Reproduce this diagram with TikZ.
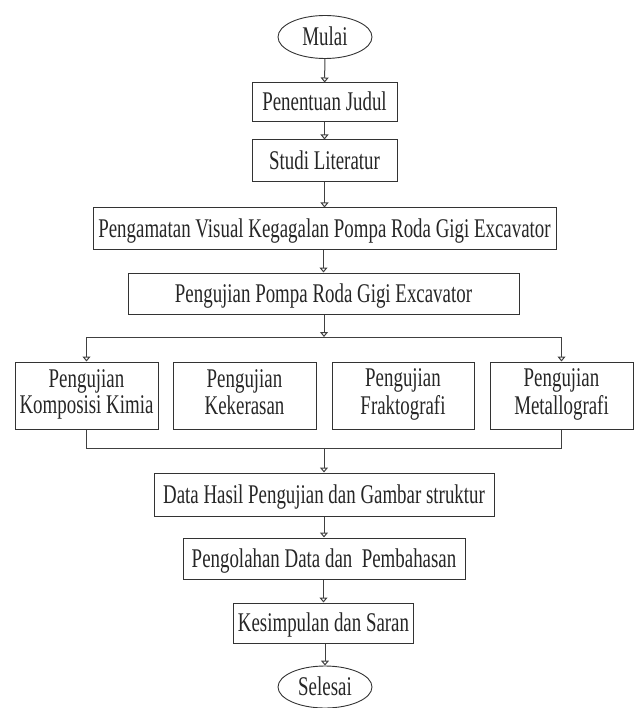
\documentclass[tikz,border=0pt]{standalone}
\usepackage{fontspec}
\setmainfont{Liberation Serif}[FakeStretch=0.70]
\usetikzlibrary{shapes.geometric,arrows.meta}
\newcommand\linestrut{\rule[-7.5pt]{0pt}{25pt}}
\begin{document}
\begin{tikzpicture}[x=1pt,y=-1pt,
  every node/.style={font=\fontsize{27}{25}\selectfont, text=black!85, inner sep=0pt},
  onel/.style={text height=17pt, text depth=0pt},
  stepbox/.style={draw=black!80, line width=1pt, rectangle, align=center},
  termbox/.style={draw=black!80, line width=0.9pt, ellipse, minimum width=94pt, minimum height=43pt, onel},
  conn/.style={draw=black!75, line width=1pt},
  arr/.style={conn, -{Triangle[open, length=5pt, width=8pt]}}]
\useasboundingbox (0,0) rectangle (637,708);
\node[termbox] (mulai) at (325,37) {Mulai};
\node[stepbox, onel, minimum width=145pt, minimum height=39pt] (judul) at (324.5,102.5) {Penentuan Judul};
\node[stepbox, onel, minimum width=145pt, minimum height=42pt] (studi) at (324.5,161) {Studi Literatur};
\node[stepbox, onel, minimum width=463pt, minimum height=42pt] (visual) at (324.5,229) {Pengamatan Visual Kegagalan Pompa Roda Gigi Excavator};
\node[stepbox, onel, minimum width=391pt, minimum height=41pt] (pompa) at (323.5,293.5) {Pengujian Pompa Roda Gigi Excavator};
\node[stepbox, minimum width=143pt, minimum height=67pt] (b1) at (86.5,395.5) {\linestrut Pengujian\\\linestrut Komposisi Kimia};
\node[stepbox, minimum width=143pt, minimum height=67pt] (b2) at (244.5,395.5) {\linestrut Pengujian\\\linestrut Kekerasan};
\node[stepbox, minimum width=142pt, minimum height=67pt] (b3) at (403,395.5) {\linestrut Pengujian\\\linestrut Fraktografi};
\node[stepbox, minimum width=143pt, minimum height=67pt] (b4) at (561.5,395.5) {\linestrut Pengujian\\\linestrut Metallografi};
\node[stepbox, onel, minimum width=340pt, minimum height=43pt] (data) at (324,494.5) {Data Hasil Pengujian dan Gambar struktur};
\node[stepbox, onel, minimum width=282pt, minimum height=41pt] (olah) at (324,558.5) {Pengolahan Data dan\ \ Pembahasan};
\node[stepbox, onel, minimum width=180pt, minimum height=40pt] (simpul) at (323.5,623) {Kesimpulan dan Saran};
\node[termbox, minimum height=42pt] (selesai) at (325,687) {Selesai};
\coordinate (bl) at (86.5,337);
\coordinate (br) at (561.5,337);
\coordinate (bm) at (324,337);
\coordinate (jl) at (86.5,448);
\coordinate (jr) at (561.5,448);
\coordinate (jm) at (324,448);
\draw[arr] (mulai) -- (judul);
\draw[arr] (judul) -- (studi);
\draw[arr] (studi) -- (studi|-visual.north);
\draw[arr] (visual.south-|pompa) -- (pompa);
\draw[arr] (pompa.south-|bm) -- (bm);
\draw[conn] (bl) -- (br);
\draw[arr] (bl) -- (b1);
\draw[arr] (br) -- (b4);
\draw[conn] (b1) -- (jl) -- (jr) -- (b4);
\draw[arr] (jm) -- (data.north-|jm);
\draw[arr] (data.south-|olah) -- (olah);
\draw[arr] (olah.south-|simpul) -- (simpul);
\draw[arr] (simpul.south-|selesai) -- (selesai);
\end{tikzpicture}
\end{document}
